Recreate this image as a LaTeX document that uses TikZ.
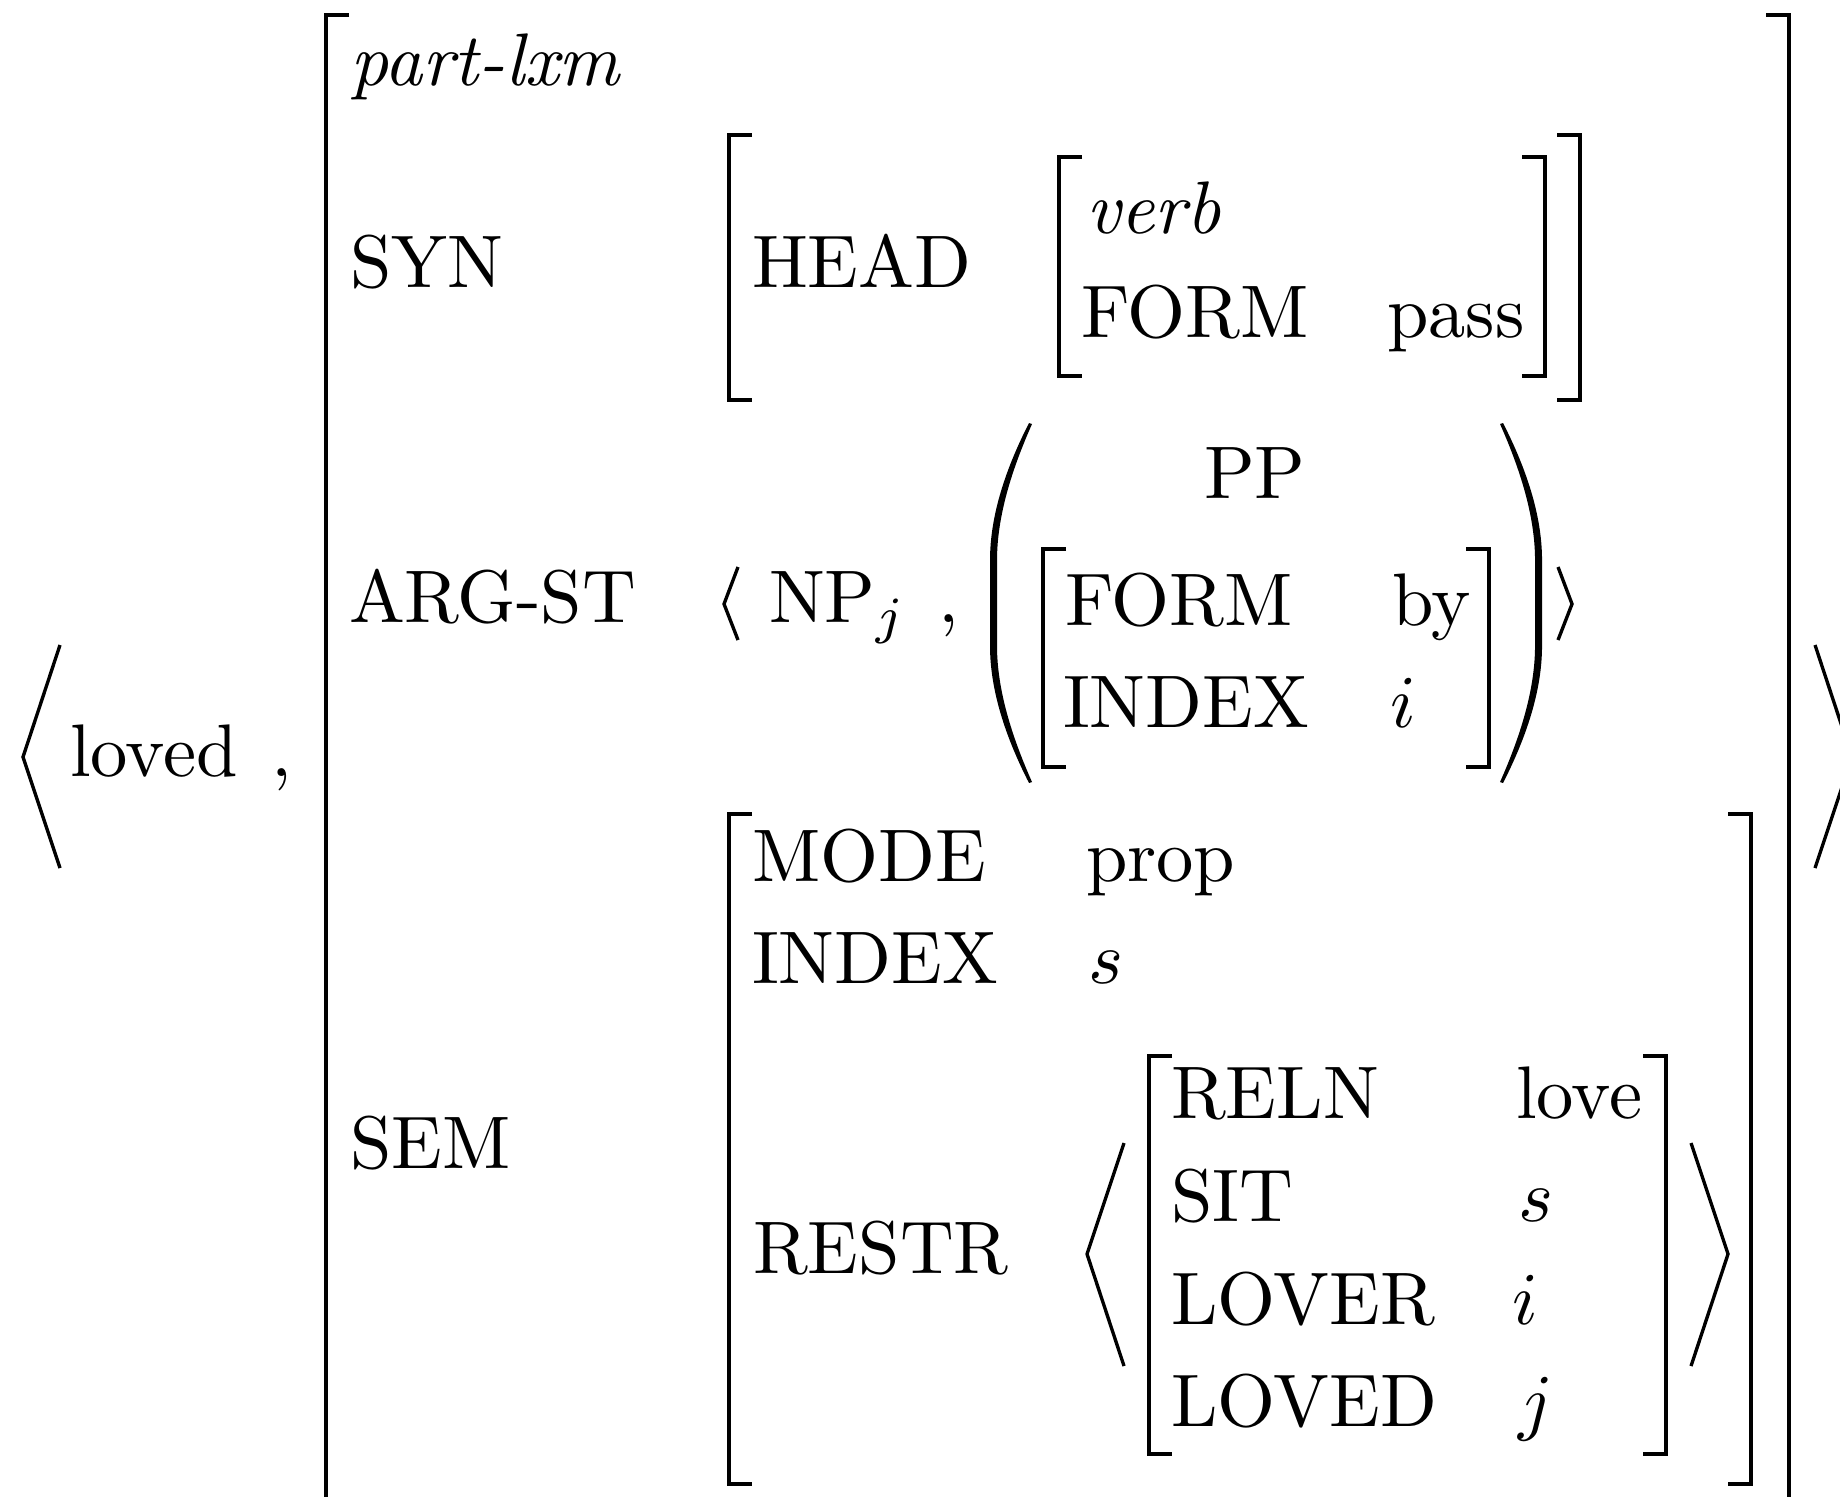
\documentclass[tikz,border=0pt]{standalone}
\begin{document}
\begin{tikzpicture}[x=0.13423pt,y=-0.13423pt,
  lbl/.style={anchor=base west, inner sep=0pt, outer sep=0pt},
  brk/.style={line width=0.6pt, line cap=butt, line join=miter},
  ang/.style={line width=0.45pt, line cap=butt, line join=miter}]
\useasboundingbox (0,0) rectangle (1840,1496);
\clip (0,0) rectangle (1840,1496);
% outer angle brackets
\draw[ang] (60,645) -- (23,757) -- (60,868);
\draw[ang] (1815,645) -- (1852,757) -- (1815,868);
\node[lbl] (loved) at (70,776) {loved};
\node[lbl] (c1) at (271,776) {,};
% outer brackets
\draw[brk] (349,15) -- (326,15) -- (326,1530);
\draw[brk] (1766,15) -- (1789,15) -- (1789,1530);
\node[lbl] (type) at (350,85) {\textit{part-lxm}};
% SYN
\node[lbl] (syn) at (350,287) {SYN};
\draw[brk] (752,135) -- (729,135) -- (729,400) -- (752,400);
\draw[brk] (1557,135) -- (1580,135) -- (1580,400) -- (1557,400);
\node[lbl] (head) at (752,287) {HEAD};
\draw[brk] (1082,157) -- (1059,157) -- (1059,376) -- (1082,376);
\draw[brk] (1522,157) -- (1545,157) -- (1545,376) -- (1522,376);
\node[lbl] (verb) at (1086,233) {\textit{verb}};
\node[lbl] (form1) at (1081,337) {FORM};
\node[lbl] (pass) at (1387,337) {pass};
% ARG-ST
\node[lbl] (argst) at (349,622) {ARG-ST};
\draw[ang] (738,567) -- (724,604) -- (738,640);
\node[lbl] (np) at (769,622) {$\mathrm{NP}_j$};
\node[lbl] (c2) at (938,622) {,};
\fill (1029,423) .. controls (1006,468) and (990,515) .. (990,560) -- (990,646) .. controls (990,691) and (1006,738) .. (1029,783) -- (1032,782) .. controls (1012,737) and (997,690) .. (997,646) -- (997,560) .. controls (997,516) and (1012,469) .. (1032,424) -- cycle;
\fill (1503,423) .. controls (1526,468) and (1542,515) .. (1542,560) -- (1542,646) .. controls (1542,691) and (1526,738) .. (1503,783) -- (1500,782) .. controls (1520,737) and (1535,690) .. (1535,646) -- (1535,560) .. controls (1535,516) and (1520,469) .. (1500,424) -- cycle;
\node[lbl] (pp) at (1204,498) {PP};
\draw[brk] (1066,549) -- (1043,549) -- (1043,767) -- (1066,767);
\draw[brk] (1466,549) -- (1489,549) -- (1489,767) -- (1466,767);
\node[lbl] (form2) at (1065,625) {FORM};
\node[lbl] (by) at (1392,625) {by};
\node[lbl] (index1) at (1063,727) {INDEX};
\node[lbl] (i1) at (1390,727) {$i$};
\draw[ang] (1558,567) -- (1572,604) -- (1558,640);
% SEM
\node[lbl] (sem) at (350,1168) {SEM};
\draw[brk] (752,814) -- (729,814) -- (729,1484) -- (752,1484);
\draw[brk] (1728,814) -- (1751,814) -- (1751,1484) -- (1728,1484);
\node[lbl] (mode) at (752,881) {MODE};
\node[lbl] (prop) at (1086,881) {prop};
\node[lbl] (index2) at (752,983) {INDEX};
\node[lbl] (s1) at (1088,983) {$s$};
\node[lbl] (restr) at (753,1273) {RESTR};
\draw[ang] (1124,1143) -- (1087,1254) -- (1124,1366);
\draw[ang] (1691,1143) -- (1728,1254) -- (1691,1366);
\draw[brk] (1172,1056) -- (1149,1056) -- (1149,1454) -- (1172,1454);
\draw[brk] (1643,1056) -- (1666,1056) -- (1666,1454) -- (1643,1454);
\node[lbl] (reln) at (1171,1118) {RELN};
\node[lbl] (love) at (1516,1118) {love};
\node[lbl] (sit) at (1171,1221) {SIT};
\node[lbl] (s2) at (1518,1221) {$s$};
\node[lbl] (lover) at (1171,1324) {LOVER};
\node[lbl] (i2) at (1512,1324) {$i$};
\node[lbl] (lovedf) at (1171,1426) {LOVED};
\node[lbl] (j1) at (1518,1426) {$j$};
\end{tikzpicture}
\end{document}
